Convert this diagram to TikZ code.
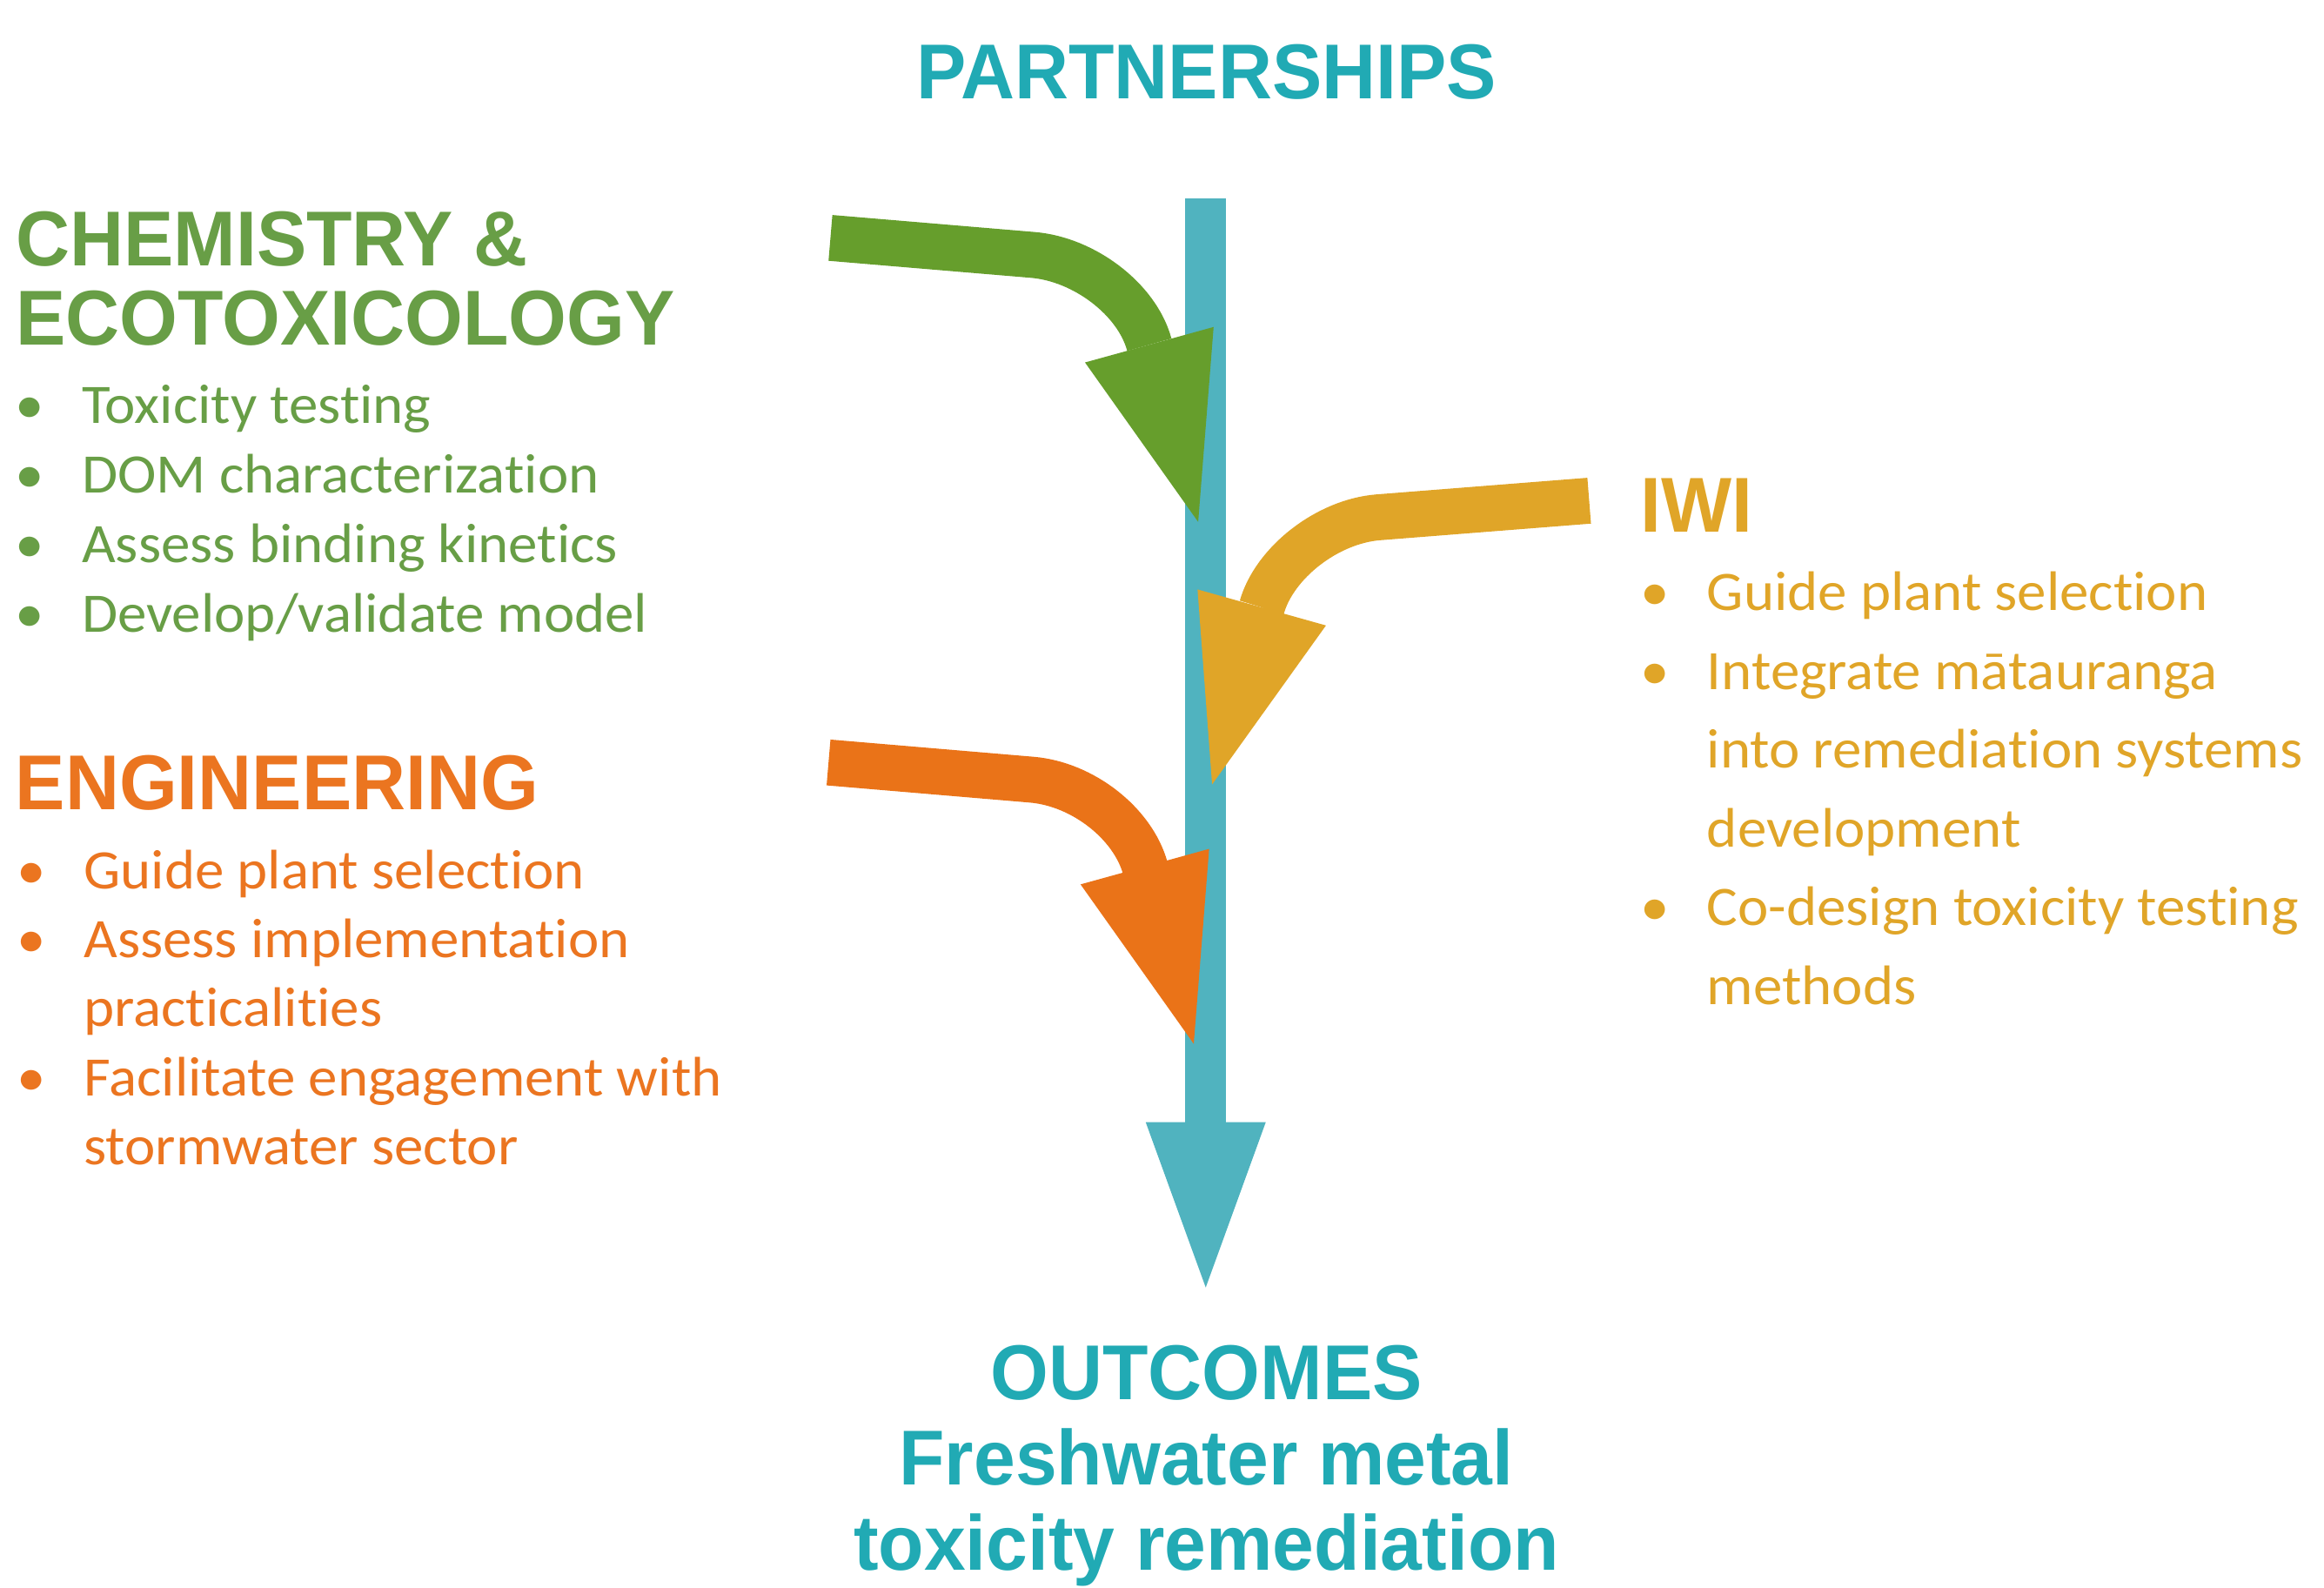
\documentclass[tikz,border=0pt]{standalone}
\usepackage{fontspec}
\setmainfont{Carlito}[Ligatures=NoCommon, FakeStretch=1.045]
\newfontfamily\headfont{Liberation Sans}[FakeStretch=0.96]
\usetikzlibrary{arrows.meta}

\definecolor{tealtext}{HTML}{21AAB4}
\definecolor{tealflow}{HTML}{50B3BF}
\definecolor{chemtext}{HTML}{689E46}
\definecolor{chemarrow}{HTML}{669E2C}
\definecolor{engtext}{HTML}{EB7520}
\definecolor{engarrow}{HTML}{EA7318}
\definecolor{iwitext}{HTML}{E0A528}
\definecolor{iwiarrow}{HTML}{E0A528}

\tikzset{
  heading/.style={font=\headfont\bfseries\fontsize{52.5}{58}\selectfont, inner sep=0pt, anchor=base west},
  title/.style={heading, anchor=base, text=tealtext},
  item/.style={font=\fontsize{37.6}{47}\selectfont, inner sep=0pt, anchor=base west},
  flow/.style={line width=31pt, -{Triangle[length=124pt,width=90pt,line width=0pt]}},
  mainflow/.style={line width=27.7pt, tealflow, -{Triangle[length=111.5pt,width=81pt,line width=0pt]}}
}
\newcommand{\bul}[1]{\makebox[45pt][l]{\textbullet}#1}
\newcommand{\cont}[1]{\hspace*{45pt}#1}

\begin{document}
\begin{tikzpicture}[x=1pt, y=-1pt]
    \useasboundingbox (0,0) rectangle (1568,1071);

    % centre column
    \node[title] (partners) at (814,66.5) {PARTNERSHIPS};
    \coordinate (flowtop) at (813.5,134);
    \coordinate (flowtip) at (813.5,868.6);
    \draw[mainflow] (flowtop) -- (flowtip);
    \node[title] (outcomes) at (814,944.2) {OUTCOMES};
    \node[title] (goalA) at (814,1001.9) {Freshwater metal};
    \node[title] (goalB) at (814,1059.6) {toxicity remediation};

    % arrows into the column
    \coordinate (chemfrom) at (560.3,160.5);
    \coordinate (chemto) at (808.4,352.1);
    \draw[flow, chemarrow] (chemfrom) -- (697,172)
        .. controls (731.8,175) and (767,202) .. (775.3,232.1) -- (chemto);

    \coordinate (iwifrom) at (1072.2,337.8);
    \coordinate (iwito) at (817.8,529.2);
    \draw[flow, iwiarrow] (iwifrom) -- (930,349)
        .. controls (895.4,351.7) and (859.7,379.8) .. (851.3,409.8) -- (iwito);

    \coordinate (engfrom) at (559,514.4);
    \coordinate (engto) at (805.4,704.2);
    \draw[flow, engarrow] (engfrom) -- (696,526)
        .. controls (730.6,528.9) and (764.4,555.6) .. (772.7,585.7) -- (engto);

    % chemistry
    \begin{scope}[text=chemtext]
        \node[heading] (chem) at (10.6,179.6) {CHEMISTRY \&};
        \node[heading] (chemB) at (10.6,232.6) {ECOTOXICOLOGY};
        \node[item] (chemA1) at (10.1,285.5) {\bul{Toxicity testing}};
        \node[item] (chemA2) at (10.1,332.5) {\bul{DOM characterization}};
        \node[item] (chemA3) at (10.1,379.5) {\bul{Assess binding kinetics}};
        \node[item] (chemA4) at (10.1,426.5) {\bul{Develop/validate model}};
    \end{scope}

    % engineering
    \begin{scope}[text=engtext]
        \node[heading] (eng) at (10.3,546.2) {ENGINEERING};
        \node[item] (engA1) at (11.4,599.5) {\bul{Guide plant selection}};
        \node[item] (engA2) at (11.4,646) {\bul{Assess implementation}};
        \node[item] (engA3) at (11.4,692.7) {\cont{practicalities}};
        \node[item] (engA4) at (11.4,739.6) {\bul{Facilitate engagement with}};
        \node[item] (engA5) at (11.4,786) {\cont{stormwater sector}};
    \end{scope}

    % iwi
    \begin{scope}[text=iwitext]
        \node[heading] (iwi) at (1106.8,359.1) {IWI};
        \node[item] (iwiA1) at (1106.5,412) {\bul{Guide plant selection}};
        \node[item] (iwiA2) at (1106.5,465.4) {\bul{Integrate mātauranga}};
        \node[item] (iwiA3) at (1106.5,518.2) {\cont{into remediation systems}};
        \node[item] (iwiA4) at (1106.5,571.6) {\cont{development}};
        \node[item] (iwiA5) at (1106.5,624.5) {\bul{Co-design toxicity testing}};
        \node[item] (iwiA6) at (1106.5,677.9) {\cont{methods}};
    \end{scope}
\end{tikzpicture}
\end{document}
